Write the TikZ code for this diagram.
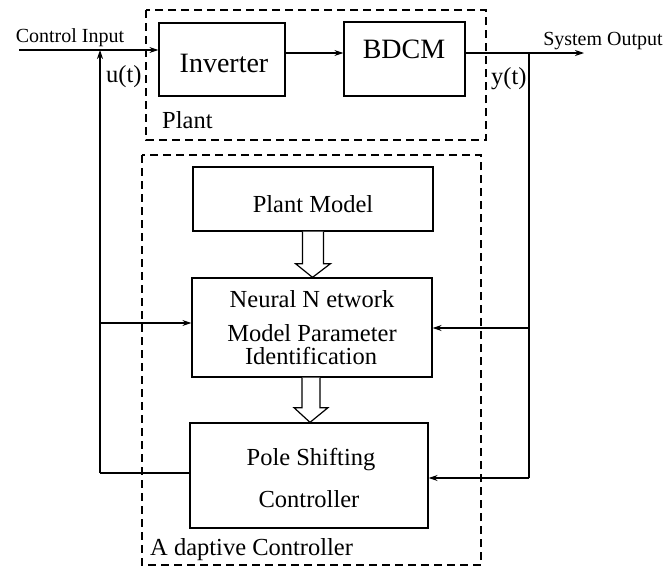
\documentclass[tikz,border=0pt]{standalone}
\usepackage{fontspec}
\setmainfont{Liberation Serif}
\usetikzlibrary{arrows.meta,calc}
\begin{document}
\begin{tikzpicture}[x=1pt,y=-1pt,
  box/.style={draw,line width=1.3pt,inner sep=0pt},
  dbox/.style={draw,line width=1.3pt,dash pattern=on 8pt off 5pt},
  wire/.style={line width=1.1pt},
  arr/.style={wire,-{Stealth[length=9pt,width=6pt]}},
  hol/.style={draw,line width=1.2pt,fill=white,line join=miter},
  txt/.style={inner sep=0pt,anchor=base,font=\fontsize{24.5}{26}\selectfont},
  big/.style={inner sep=0pt,anchor=base,font=\fontsize{28}{30}\selectfont},
  lbl/.style={inner sep=0pt,anchor=base,font=\fontsize{20}{22}\selectfont}]
\useasboundingbox (0,0) rectangle (668,568);
% dashed frames
\draw[dbox] (146,10) rectangle (486,140);
\draw[dbox] (142,155) rectangle (481,565);
% boxes
\node[box,minimum width=126pt,minimum height=73pt] (inv) at (222,59.5) {};
\node[box,minimum width=121pt,minimum height=74pt] (bdcm) at (404.5,59) {};
\node[box,minimum width=240pt,minimum height=64pt] (pm) at (313,199) {};
\node[box,minimum width=240pt,minimum height=99pt] (nn) at (312,327.5) {};
\node[box,minimum width=238pt,minimum height=105pt] (pole) at (309,475.5) {};
% texts
\node[big] (tinv) at (224,72) {Inverter};
\node[big] (tbd) at (404,58) {BDCM};
\node[txt] (tpm) at (313,212) {Plant Model};
\node[txt] (tnn1) at (312,307) {Neural N etwork};
\node[txt] (tnn2) at (312,341) {Model Parameter};
\node[txt] (tnn3) at (311,364) {Identification};
\node[txt] (tps1) at (311,465) {Pole Shifting};
\node[txt] (tps2) at (309,507) {Controller};
\node[lbl] (tci) at (70,42) {Control Input};
\node[lbl] (tso) at (603,45) {System Output};
\node[txt,anchor=base west] (tu) at (106,82) {u(t)};
\node[txt,anchor=base west] (ty) at (491,84) {y(t)};
\node[txt,anchor=base west] (tpl) at (162,128) {Plant};
\node[txt,anchor=base west] (tac) at (150,555) {A daptive Controller};
% coordinates
\coordinate (cin) at (19,50);
\coordinate (ju) at (100,50);
\coordinate (lnn) at (100,323);
\coordinate (lpo) at (100,473);
\coordinate (jy) at (529,53);
\coordinate (out) at (584,53);
\coordinate (rnn) at (529,328);
\coordinate (rpo) at (529,478);
% wires
\draw[arr] (cin) -- (cin -| inv.west);
\draw[arr] (inv.east |- 0,53) -- (bdcm.west |- 0,53);
\draw[arr] (bdcm.east |- 0,53) -- (out);
\draw[wire] (jy) -- (rpo);
\draw[arr] (rnn) -- (rnn -| nn.east);
\draw[arr] (rpo) -- (rpo -| pole.east);
\draw[wire] (pole.west |- lpo) -- (lpo);
\draw[arr] (lpo) -- (ju);
\draw[arr] (lnn) -- (lnn -| nn.west);
% hollow arrows
\draw[hol] ($(pm.south)+(-10.5,0)$) -- ++(0,32) -- ++(-7,0) -- ($(nn.north)+(0.5,0)$)
  -- ($(pm.south)+(17.5,32)$) -- ++(-7,0) -- ($(pm.south)+(10.5,0)$);
\draw[hol] ($(nn.south)+(-10,0)$) -- ++(0,30) -- ++(-8,0) -- ($(pole.north)+(1,0)$)
  -- ($(nn.south)+(16,30)$) -- ++(-8,0) -- ($(nn.south)+(8,0)$);
\end{tikzpicture}
\end{document}
